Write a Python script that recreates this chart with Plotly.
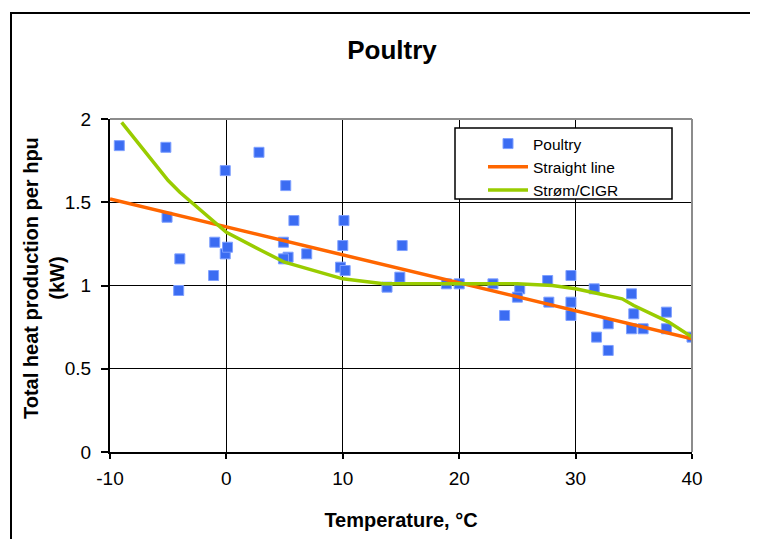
import plotly.graph_objects as go

# Measured data points (temperature °C, heat production kW)
poultry_t = [-9.2, -5.2, -5.1, -4.0, -4.1, -1.0, -1.1, -0.1, -0.1, 0.1, 2.8, 5.1, 4.9, 5.3, 4.9, 5.8,
             6.9, 10.1, 10.0, 9.8, 10.2, 13.8, 15.1, 14.9, 18.9, 20.0, 22.9, 25.2, 25.0, 23.9,
             27.6, 27.7, 29.6, 29.6, 29.6, 31.6, 31.8, 32.8, 32.8, 34.8, 35.0, 34.8, 35.8, 37.8,
             37.8, 40.0]
poultry_q = [1.84, 1.83, 1.41, 1.16, 0.97, 1.26, 1.06, 1.69, 1.19, 1.23, 1.80, 1.60, 1.26, 1.17, 1.16, 1.39,
             1.19, 1.39, 1.24, 1.11, 1.09, 0.99, 1.24, 1.05, 1.01, 1.01, 1.01, 0.98, 0.93, 0.82,
             1.03, 0.90, 1.06, 0.90, 0.82, 0.98, 0.69, 0.77, 0.61, 0.95, 0.83, 0.74, 0.74, 0.84,
             0.74, 0.69]

# Straight line fit
line_t = [-10, 40]
line_q = [1.52, 0.68]

# Strøm/CIGR curve
cigr_t = [-9, -5, -4, 0, 3, 5, 10, 13.5, 20, 25, 28, 30, 32, 34, 35, 38, 40]
cigr_q = [1.98, 1.63, 1.56, 1.32, 1.21, 1.14, 1.04, 1.01, 1.01, 1.01, 1.00, 0.98, 0.95, 0.92, 0.88, 0.78, 0.69]

x_ticks = [-10, 0, 10, 20, 30, 40]
y_ticks = [0, 0.5, 1, 1.5, 2]

FONT = "Liberation Sans, Arial, sans-serif"

fig = go.Figure()
fig.add_trace(go.Scatter(x=poultry_t, y=poultry_q, mode="markers", name="Poultry",
                         marker=dict(symbol="square", size=10, color="#3b6cf2",
                                     line=dict(color="#7fa0ff", width=1))))
fig.add_trace(go.Scatter(x=line_t, y=line_q, mode="lines", name="Straight line",
                         line=dict(color="#ff6600", width=3.5)))
fig.add_trace(go.Scatter(x=cigr_t, y=cigr_q, mode="lines", name="Strøm/CIGR",
                         line=dict(color="#99cc00", width=3.5)))

# page geometry (the html body adds an 8px offset)
OFF = 8
L, R, T, B = 110, 692, 119, 452
W, H = 758 - OFF, 539 - OFF
pw, ph = R - L, B - T

def px(xp):
    return (xp - L) / pw

def py(yp):
    return (B - yp) / ph

shapes = [
    # outer chart frame
    dict(type="rect", xref="paper", yref="paper", x0=px(11), x1=px(755), y0=py(620), y1=py(13),
         line=dict(color="black", width=2), layer="below"),
    # gray top and right plot border
    dict(type="line", xref="paper", yref="paper", x0=0, x1=1, y0=1, y1=1,
         line=dict(color="#8c8c8c", width=2), layer="above"),
    dict(type="line", xref="paper", yref="paper", x0=1, x1=1, y0=0, y1=1,
         line=dict(color="#8c8c8c", width=2), layer="above"),
    # legend box
    dict(type="rect", xref="paper", yref="paper", x0=px(455), x1=px(672), y0=py(199), y1=py(128),
         line=dict(color="black", width=1.5), fillcolor="white", layer="above"),
]

annotations = [
    dict(text="<b>Total heat production per hpu<br>(kW)</b>", xref="paper", yref="paper",
         x=px(44), y=py(278), xanchor="center", yanchor="middle", textangle=-90,
         showarrow=False, font=dict(size=20, family=FONT, color="black")),
]

fig.update_layout(
    width=W, height=H,
    margin=dict(l=L - OFF, r=758 - R, t=T - OFF, b=H - (B - OFF), pad=0, autoexpand=False),
    paper_bgcolor="white", plot_bgcolor="white",
    font=dict(family=FONT, color="black", size=19),
    title=dict(text="<b>Poultry</b>", x=(392 - OFF) / W, xanchor="center",
               y=1 - (50 - OFF) / H, yanchor="middle",
               font=dict(size=26, family=FONT)),
    shapes=shapes,
    annotations=annotations,
    showlegend=True,
    legend=dict(x=px(483), y=py(127), xanchor="left", yanchor="top",
                bgcolor="rgba(0,0,0,0)", borderwidth=0,
                font=dict(size=15.5, family=FONT), tracegroupgap=0, itemwidth=40),
    xaxis=dict(range=[-10, 40], tickvals=x_ticks, ticktext=[str(v) for v in x_ticks],
               automargin=False,
               showgrid=True, gridcolor="black", gridwidth=1, zeroline=False,
               showline=True, linecolor="black", linewidth=2,
               ticks="outside", ticklen=5, tickcolor="black", tickwidth=1.5,
               ticklabelstandoff=3,
               tickfont=dict(size=19), fixedrange=True,
               title=dict(text="<b>Temperature, °C</b>", font=dict(size=20), standoff=25)),
    yaxis=dict(range=[0, 2], tickvals=y_ticks, ticktext=["0", "0.5", "1", "1.5", "2"],
               automargin=False,
               showgrid=True, gridcolor="black", gridwidth=1, zeroline=False,
               showline=True, linecolor="black", linewidth=2,
               ticks="outside", ticklen=7, tickcolor="black", tickwidth=1.5,
               ticklabelstandoff=6,
               tickfont=dict(size=19), fixedrange=True),
)

fig.write_html("out.html")
